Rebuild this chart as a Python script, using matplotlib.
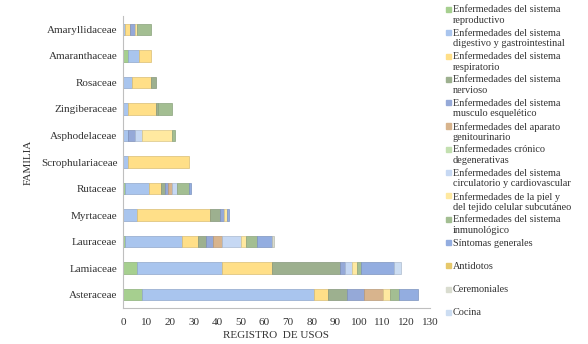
import numpy as np
import matplotlib
matplotlib.use("Agg")
import matplotlib.pyplot as plt
from matplotlib.patches import Rectangle
from matplotlib.colors import to_rgb

plt.rcParams['font.family'] = ['Liberation Serif', 'DejaVu Serif']

# familias (de abajo hacia arriba)
familias = ['Asteraceae', 'Lamiaceae', 'Lauraceae', 'Myrtaceae', 'Rutaceae',
            'Scrophulariaceae', 'Asphodelaceae', 'Zingiberaceae', 'Rosaceae',
            'Amaranthaceae', 'Amaryllidaceae']

categorias = ['Enfermedades del sistema\nreproductivo',
              'Enfermedades del sistema\ndigestivo y gastrointestinal',
              'Enfermedades del sistema\nrespiratorio',
              'Enfermedades del sistema\nnervioso',
              'Enfermedades del sistema\nmusculo esquelético',
              'Enfermedades del aparato\ngenitourinario',
              'Enfermedades crónico\ndegenerativas',
              'Enfermedades del sistema\ncirculatorio y cardiovascular',
              'Enfermedades de la piel y\ndel tejido celular subcutáneo',
              'Enfermedades del sistema\ninmunológico',
              'Síntomas generales',
              'Antidotos',
              'Ceremoniales',
              'Cocina']

# registros por categoría, en el orden de "familias"
reproductivo   = [8, 6, 1, 0, 1, 0, 0, 0, 0, 2, 0]
digestivo      = [73, 36, 24, 6, 10, 2, 2, 2, 4, 5, 1]
respiratorio   = [6, 21, 7, 31, 5, 26, 0, 12, 8, 5, 2]
nervioso       = [8, 29, 3, 4, 2, 0, 0, 1, 2, 0, 0]
musculo        = [7, 2, 3, 2, 1, 0, 3, 0, 0, 0, 2]
genitourinario = [8, 0, 4, 0, 2, 0, 0, 0, 0, 0, 0]
cronico        = [0, 0, 0, 0, 0, 0, 0, 0, 0, 0, 0]
circulatorio   = [0, 3, 8, 0, 2, 0, 3, 0, 0, 0, 0]
piel           = [3, 2, 2, 1, 0, 0, 13, 0, 0, 0, 1]
inmunologico   = [4, 2, 5, 0, 5, 0, 1, 6, 0, 0, 6]
sintomas       = [8, 14, 6, 1, 1, 0, 0, 0, 0, 0, 0]
antidotos      = [0, 0, 0, 0, 0, 0, 0, 0, 0, 0, 0]
ceremoniales   = [0, 0, 1, 0, 0, 0, 0, 0, 0, 0, 0]
cocina         = [0, 3, 0, 0, 0, 0, 0, 0, 0, 0, 0]

series = [reproductivo, digestivo, respiratorio, nervioso, musculo,
          genitourinario, cronico, circulatorio, piel, inmunologico,
          sintomas, antidotos, ceremoniales, cocina]

colores = ['#A6CF8F', '#A9C5EE', '#FFDF88', '#9DB08F', '#95A9D8',
           '#D8B48D', '#C3E0B0', '#C6D8F3', '#FFE9A0', '#A3BE92',
           '#93ADE0', '#E6C86A', '#D9DCCF', '#CCDDF2']

fig = plt.figure(figsize=(5.88, 3.44), dpi=100)
ax = fig.add_axes([0.209, 0.105, 0.522, 0.848])

y = np.arange(len(familias))
izq = np.zeros(len(familias))
for vals, col in zip(series, colores):
    vals = np.array(vals, dtype=float)
    borde = tuple(c * 0.85 for c in to_rgb(col))
    lw = [0.5 if v > 0 else 0 for v in vals]
    ax.barh(y, vals, left=izq, height=0.43, color=col,
            edgecolor=borde, linewidth=lw)
    izq += vals

ax.set_xlim(0, 130)
ax.set_ylim(-0.5, len(familias) - 0.5)
ax.set_xticks(np.arange(0, 131, 10))
ax.set_yticks(y)
ax.set_yticklabels(familias)
ax.tick_params(axis='both', length=0, labelsize=8, colors='#333333')
ax.tick_params(axis='x', pad=7)
ax.tick_params(axis='y', pad=4)
for s in ['top', 'right']:
    ax.spines[s].set_visible(False)
for s in ['left', 'bottom']:
    ax.spines[s].set_color('#BFBFBF')
    ax.spines[s].set_linewidth(0.8)

ax.set_xlabel('REGISTRO  DE USOS', fontsize=8, color='#333333', labelpad=3)
ax.set_ylabel('FAMILIA', fontsize=8, color='#333333', labelpad=6)

# leyenda a la derecha
x0 = 446 / 588
for i, (nombre, col) in enumerate(zip(categorias, colores)):
    yc = 1 - (9.5 + 23.3 * i) / 344
    fig.patches.append(Rectangle((x0, yc - 2.5 / 344), 5 / 588, 5 / 344,
                                 transform=fig.transFigure, color=col))
    fig.text(x0 + 7 / 588, yc + 4 / 344, nombre, fontsize=7.4,
             color='#333333', va='top', ha='left', linespacing=1.2)

fig.savefig('out.png', dpi=100)
